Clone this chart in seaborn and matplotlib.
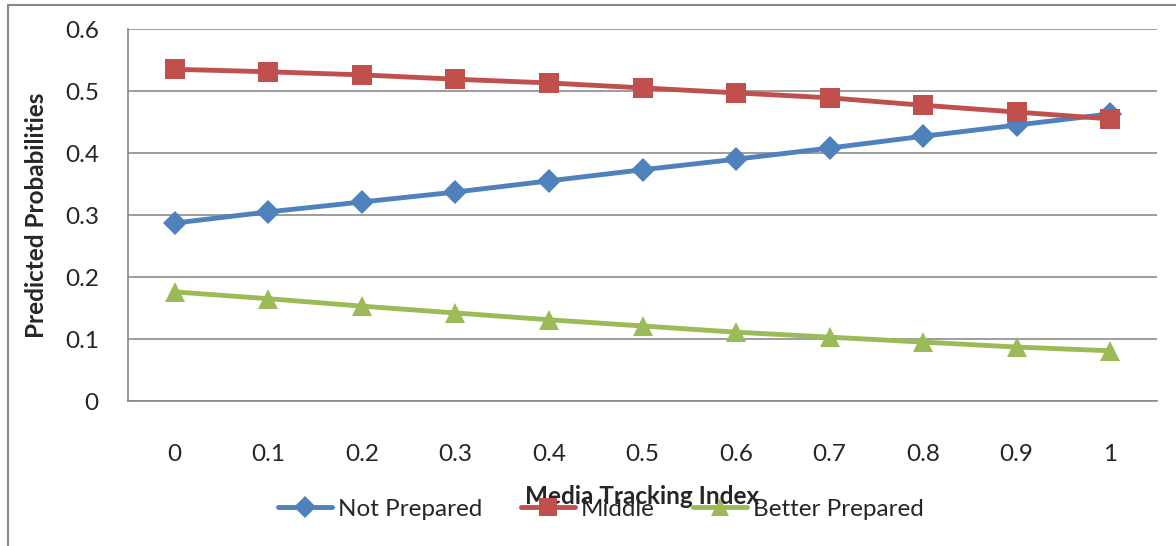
import numpy as np
import pandas as pd
import matplotlib
matplotlib.use("Agg")
import matplotlib.pyplot as plt
from matplotlib.lines import Line2D
import seaborn as sns

categories = ["0", "0.1", "0.2", "0.3", "0.4", "0.5", "0.6", "0.7", "0.8", "0.9", "1"]
not_prepared = [0.287, 0.305, 0.321, 0.337, 0.355, 0.373, 0.390, 0.408, 0.427, 0.445, 0.463]
middle = [0.535, 0.531, 0.526, 0.519, 0.513, 0.505, 0.497, 0.489, 0.477, 0.466, 0.455]
better_prepared = [0.176, 0.165, 0.153, 0.142, 0.131, 0.121, 0.111, 0.103, 0.095, 0.087, 0.081]
series_names = ["Not Prepared", "Middle", "Better Prepared"]
y_ticks = [0, 0.1, 0.2, 0.3, 0.4, 0.5, 0.6]
y_tick_labels = ["0", "0.1", "0.2", "0.3", "0.4", "0.5", "0.6"]

sns.set_style("white")
plt.rcParams["font.family"] = ["Lato", "DejaVu Sans"]

rows = []
for name, vals in zip(series_names, [not_prepared, middle, better_prepared]):
    for i, (c, v) in enumerate(zip(categories, vals)):
        rows.append({"pos": i, "cat": c, "value": v, "series": name})
df = pd.DataFrame(rows)

palette = {"Not Prepared": "#4F81BD", "Middle": "#C0504D", "Better Prepared": "#9BBB59"}
markers = {"Not Prepared": "D", "Middle": "s", "Better Prepared": "^"}
msizes = {"Not Prepared": 12, "Middle": 14, "Better Prepared": 14}
FS = 17.5

fig = plt.figure(figsize=(11.76, 5.46), dpi=100)
ax = fig.add_axes([128/1176, 1-401/546, (1157-128)/1176, (401-29)/546])

for name in series_names:
    sub = df[df["series"] == name]
    sns.lineplot(data=sub, x="pos", y="value", ax=ax, color=palette[name],
                 marker=markers[name], markersize=msizes[name], linewidth=3.5,
                 markeredgewidth=0, label=name, legend=False)

ax.set_xlim(-0.5, len(categories) - 0.5)
ax.set_ylim(0, 0.6)
ax.set_yticks(y_ticks)
ax.set_yticklabels(y_tick_labels)
ax.set_xticks(range(len(categories)))
ax.set_xticklabels(categories)
ax.set_xticks(np.arange(-0.5, len(categories), 1.0), minor=True)
ax.tick_params(axis="x", which="major", length=0, pad=31, labelsize=FS)
ax.tick_params(axis="x", which="minor", length=7, width=1.2, color="#888888", direction="out")
ax.tick_params(axis="y", which="major", length=7, width=1.2, color="#888888", direction="out",
               labelsize=FS, pad=14)
ax.grid(axis="y", color="#8c8c8c", linewidth=1.2)
ax.set_axisbelow(True)
for s in ["top", "right"]:
    ax.spines[s].set_visible(False)
for s in ["left", "bottom"]:
    ax.spines[s].set_color("#888888")
    ax.spines[s].set_linewidth(1.2)

ax.set_xlabel("")
ax.set_ylabel("")
fig.text(37/1176, 1-215/546, "Predicted Probabilities", ha="center", va="center",
         rotation=90, fontsize=FS, fontweight="bold")
fig.text(642/1176, 1-497/546, "Media Tracking Index", ha="center", va="center",
         fontsize=FS, fontweight="bold")

handles = [Line2D([], [], color=palette[n], marker=markers[n], markersize=msizes[n]*0.95,
                  linewidth=3.5, markeredgewidth=0) for n in series_names]
fig.legend(handles, series_names, loc="center", bbox_to_anchor=(601/1176, 1-509/546),
           ncol=3, frameon=False, fontsize=FS, handlelength=2.2, columnspacing=1.6,
           handletextpad=0.25, borderpad=0)

fig.add_artist(Line2D([8/1176, 8/1176], [0, 1-5/546], transform=fig.transFigure,
                      color="#888888", linewidth=1.5))
fig.add_artist(Line2D([8/1176, 1], [1-5/546, 1-5/546], transform=fig.transFigure,
                      color="#888888", linewidth=1.5))

fig.savefig("out.png", dpi=100)
